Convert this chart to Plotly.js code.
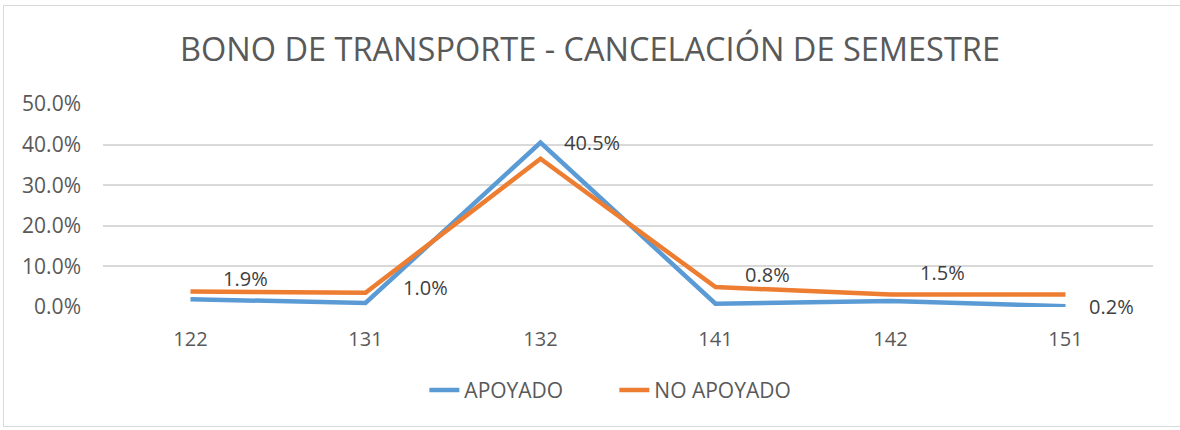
<!DOCTYPE html>
<html>
<head>
<meta charset="utf-8">
<script src="https://cdn.plot.ly/plotly-3.0.1.min.js"></script>
<style>
  html, body { margin: 0; padding: 0; background: #ffffff; }
  #wrap { position: relative; width: 1180px; height: 430px; overflow: hidden; }
  #chart { position: absolute; left: 0; top: 0; width: 1180px; height: 430px; }
  #frame { position: absolute; left: 3px; top: 5px; width: 1190px; height: 422px;
           border: 1.5px solid #d9d9d9; pointer-events: none; box-sizing: border-box; }
</style>
</head>
<body>
<div id="wrap">
  <div id="chart"></div>
  <div id="frame"></div>
</div>
<script>
// ---- data ----
const chartTitle = "BONO DE TRANSPORTE - CANCELACIÓN DE SEMESTRE";
const categories = ["122", "131", "132", "141", "142", "151"];
const seriesNames = ["APOYADO", "NO APOYADO"];
const apoyado = [1.9, 1.0, 40.5, 0.8, 1.5, 0.2];
const noApoyado = [3.8, 3.5, 36.5, 4.9, 3.1, 3.1];
const yTicks = [0, 10, 20, 30, 40, 50];

// label offsets (pixels) for the APOYADO data labels
const labelDx = [55, 60, 51, 52, 52, 46];
const labelDy = [21, 15, 0, 29, 28, 0];

const FONT = "Open Sans";
const GREY = "#595959";

const traces = [
  { x: categories, y: apoyado, name: seriesNames[0], type: "scatter", mode: "lines",
    line: { color: "#5B9BD5", width: 4.5 }, hoverinfo: "skip" },
  { x: categories, y: noApoyado, name: seriesNames[1], type: "scatter", mode: "lines",
    line: { color: "#ED7D31", width: 4.5 }, hoverinfo: "skip" }
];

const annotations = [];
for (let i = 0; i < apoyado.length; i++) {
  annotations.push({
    x: i, y: apoyado[i], xref: "x", yref: "y",
    text: apoyado[i].toFixed(1) + "%", showarrow: false,
    xanchor: "center", yanchor: "middle",
    xshift: labelDx[i], yshift: labelDy[i],
    font: { family: FONT, size: 20, color: "#404040" }
  });
}

const layout = {
  width: 1180, height: 430,
  margin: { l: 103, r: 27, t: 104, b: 123.3, pad: 0 },
  paper_bgcolor: "rgba(0,0,0,0)", plot_bgcolor: "rgba(0,0,0,0)",
  title: { text: chartTitle, x: 0.5, xanchor: "center", y: 0.885, yanchor: "middle",
           font: { family: FONT, size: 32.5, color: GREY } },
  xaxis: { type: "category", range: [-0.5, 5.5], showgrid: false, zeroline: false,
           showline: false, ticks: "", ticklabelstandoff: 18,
           tickfont: { family: FONT, size: 20, color: GREY } },
  yaxis: { range: [0, 50], tickvals: yTicks, ticktext: yTicks.map(t => t.toFixed(1) + "%"),
           showgrid: true, gridcolor: "#d9d9d9", gridwidth: 1.5, zeroline: false,
           showline: false, ticks: "", ticklabelstandoff: 21,
           tickfont: { family: FONT, size: 21, color: GREY } },
  showlegend: true,
  legend: { orientation: "h", x: 0.487, xanchor: "center", y: -0.411, yanchor: "middle",
            entrywidth: 145, entrywidthmode: "pixels",
            font: { family: FONT, size: 21, color: GREY }, traceorder: "normal" },
  annotations: annotations
};

Plotly.newPlot("chart", traces, layout, { displayModeBar: false });
</script>
</body>
</html>
